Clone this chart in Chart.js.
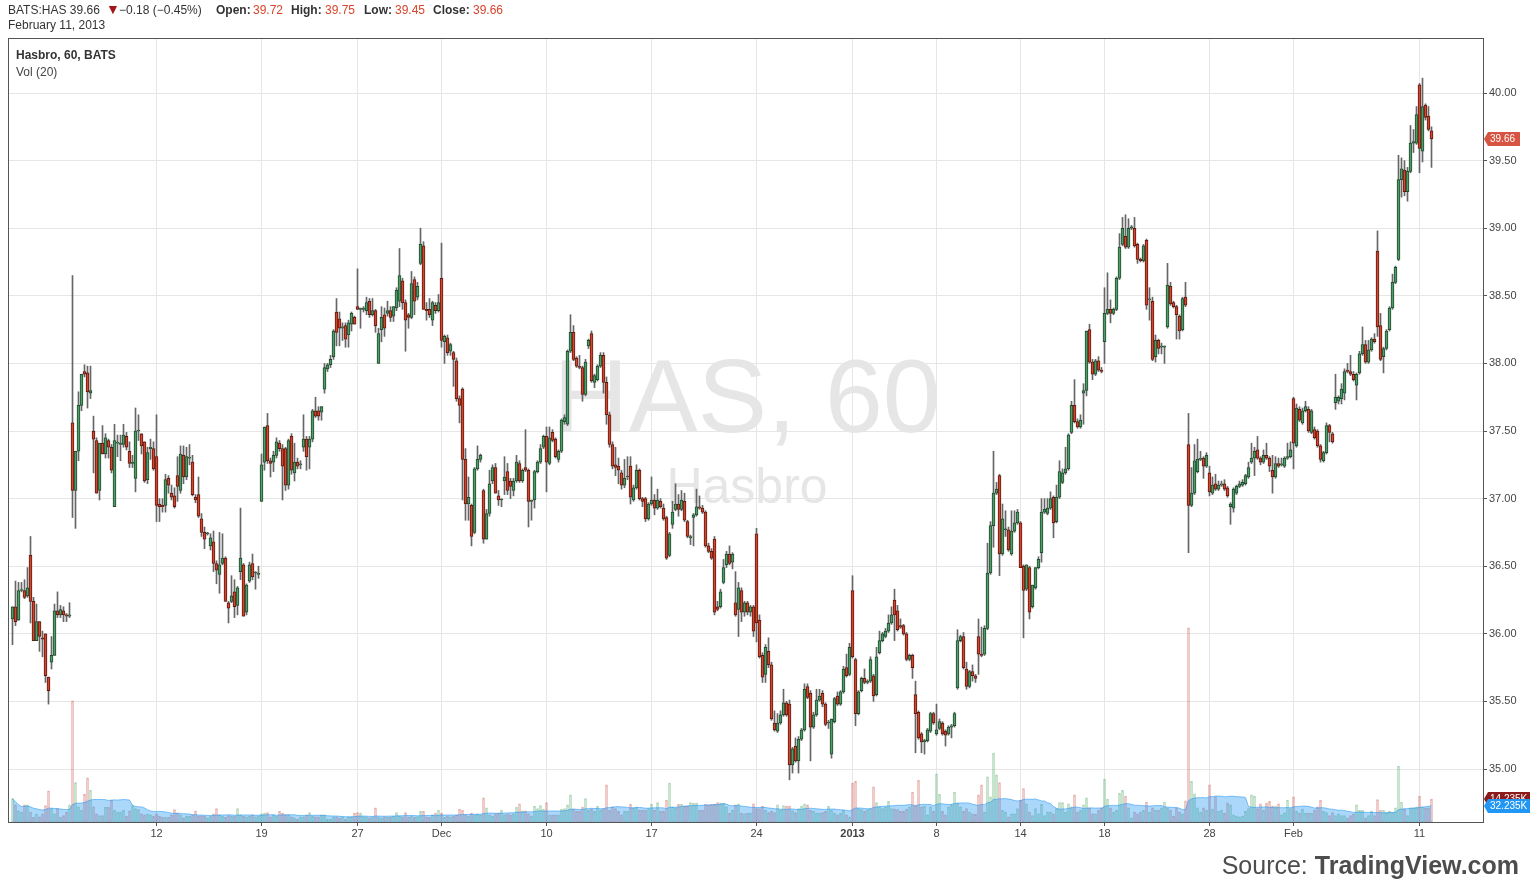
<!DOCTYPE html>
<html>
<head>
<meta charset="utf-8">
<title>HAS, 60</title>
<script src="https://cdn.jsdelivr.net/npm/chart.js@4.4.1/dist/chart.umd.min.js"></script>
<style>
  html, body { margin: 0; padding: 0; background: #fff; }
  body { width: 1533px; height: 892px; position: relative; overflow: hidden; font-family: "Liberation Sans", Arial, sans-serif; color: #333; }
  #chartBox { position: absolute; left: 0; top: 0; width: 1533px; height: 892px; z-index: 1; }
  .hdr { position: absolute; font-size: 12px; line-height: 14px; white-space: nowrap; z-index: 2; }
  .hdr.b { font-weight: bold; color: #333; }
  .val { color: #d9432b; }
  .dn { color: #a31515; font-size: 14px; }
  .legend { position: absolute; left: 16px; font-size: 12px; color: #444; z-index: 2; }
  .wm { position: absolute; left: 0; width: 1494px; text-align: center; color: #e6e6e6; z-index: 0; white-space: nowrap; }
  #source { position: absolute; right: 14px; top: 853px; font-size: 25px; line-height: 25px; color: #4d4d4d; z-index: 2; }
</style>
</head>
<body>
<div class="hdr" style="left:8px; top:3px">BATS:HAS 39.66</div>
<div class="hdr dn" style="left:106px; top:2px">&#9660;</div>
<div class="hdr" style="left:119px; top:3px">&#8722;0.18 (&#8722;0.45%)</div>
<div class="hdr b" style="left:216px; top:3px">Open:</div>
<div class="hdr val" style="left:253px; top:3px">39.72</div>
<div class="hdr b" style="left:291px; top:3px">High:</div>
<div class="hdr val" style="left:325px; top:3px">39.75</div>
<div class="hdr b" style="left:364px; top:3px">Low:</div>
<div class="hdr val" style="left:395px; top:3px">39.45</div>
<div class="hdr b" style="left:433px; top:3px">Close:</div>
<div class="hdr val" style="left:473px; top:3px">39.66</div>
<div class="hdr" style="left:8px; top:18px">February 11, 2013</div>
<div class="wm" style="top:344px; font-size:104px; line-height:104px;">HAS, 60</div>
<div class="wm" style="top:461px; font-size:50px; line-height:50px;">Hasbro</div>
<div class="legend" style="top:48px; font-weight:bold; color:#333;">Hasbro, 60, BATS</div>
<div class="legend" style="top:65px;">Vol (20)</div>
<div id="chartBox"><canvas id="c"></canvas></div>
<div id="source">Source: <b>TradingView.com</b></div>
<script>
// hourly bars, Nov 2012 - Feb 11 2013
const opens = [
36.11,36.20,36.10,36.32,36.32,36.28,36.58,36.24,35.95,36.09,35.97,36.00,35.68,35.79,35.84,36.17,36.14,36.17,36.14,36.13,
37.56,37.06,37.35,37.69,37.94,37.93,37.78,37.50,37.43,37.06,37.41,37.33,37.43,37.38,36.94,37.41,37.40,37.40,
37.46,37.35,37.26,37.15,37.50,37.48,37.42,37.14,37.37,37.37,37.31,36.96,36.95,36.95,37.15,37.04,37.02,37.17,37.06,37.32,
37.16,37.30,37.27,37.01,37.03,36.85,36.75,36.74,36.65,36.68,36.52,36.44,36.52,36.56,36.23,36.24,36.31,36.21,36.46,36.51,
36.16,36.39,36.52,36.45,36.44,36.98,37.27,37.54,37.28,37.27,37.32,37.41,37.37,37.37,37.10,37.46,37.19,37.27,37.25,37.38,
37.44,37.38,37.44,37.65,37.65,37.64,37.81,37.96,37.99,38.05,38.38,38.33,38.26,38.28,38.21,38.29,38.34,38.42,38.40,38.40,
38.39,38.46,38.36,38.39,38.00,38.25,38.36,38.37,38.39,38.35,38.41,38.46,38.61,38.45,38.36,38.34,38.62,38.49,38.74,38.87,
38.40,38.40,38.32,38.43,38.39,38.63,38.16,38.19,38.09,38.08,38.02,37.74,37.81,37.29,36.96,36.95,36.75,37.22,37.29,37.06,
36.70,36.89,37.13,37.23,37.02,36.99,37.13,37.20,37.13,37.06,37.13,37.26,37.13,37.23,37.21,36.98,36.99,37.20,37.27,37.38,
37.46,37.26,37.49,37.44,37.29,37.35,37.57,37.55,38.09,38.23,38.04,37.98,37.97,37.77,38.13,38.22,37.86,37.88,37.98,38.06,
37.86,37.62,37.40,37.25,37.24,37.19,37.10,37.16,37.24,36.99,37.08,37.21,37.00,37.00,36.85,36.96,36.99,36.93,36.98,36.93,
36.86,36.58,36.81,36.92,36.96,36.92,36.98,36.83,36.71,36.86,36.88,36.94,36.93,36.90,36.65,36.61,36.70,36.20,36.20,36.38,
36.51,36.59,36.53,36.23,36.18,36.32,36.16,36.23,36.16,36.20,36.74,36.10,35.84,35.70,35.87,35.77,35.34,35.28,35.34,35.40,
35.49,35.48,35.03,35.17,35.06,35.22,35.29,35.61,35.56,35.31,35.40,35.51,35.56,35.48,35.34,35.11,35.35,35.54,35.48,35.57,
35.75,35.70,36.32,35.81,35.41,35.58,35.67,35.64,35.65,35.69,35.55,35.86,35.95,35.98,36.02,36.08,36.25,36.17,36.06,36.06,
36.00,35.81,35.84,35.55,35.42,35.26,35.20,35.21,35.28,35.41,35.26,35.30,35.34,35.28,35.26,35.31,35.32,35.60,35.95,35.98,
35.74,35.61,35.72,35.69,35.98,35.85,35.85,36.04,36.45,36.80,37.04,37.17,36.59,36.77,36.77,36.59,36.76,36.82,36.82,36.50,
36.33,36.49,36.20,36.34,36.49,36.60,36.90,36.89,36.93,37.01,36.83,37.01,37.12,37.19,37.22,37.49,37.69,37.57,37.53,37.78,
37.80,38.25,38.01,37.92,38.02,37.95,38.16,38.37,38.40,38.37,38.40,38.63,38.88,38.94,38.86,39.00,39.00,38.88,38.77,38.76,
38.91,38.47,38.46,38.05,38.17,38.12,38.12,38.27,38.57,38.45,38.42,38.35,38.25,38.49,37.40,36.95,37.04,37.20,37.29,37.30,
37.24,37.19,37.04,37.11,37.07,37.10,37.11,37.08,36.94,36.93,37.04,37.09,37.10,37.11,37.16,37.27,37.30,37.36,37.30,37.27,
37.32,37.30,37.21,37.16,37.26,37.25,37.24,37.30,37.31,37.74,37.39,37.66,37.56,37.65,37.66,37.49,37.51,37.50,37.39,37.28,
37.34,37.54,37.48,37.71,37.72,37.74,37.78,37.95,37.94,37.92,37.84,37.93,38.07,38.14,38.01,38.10,38.18,38.83,38.28,38.05,
38.11,38.25,38.41,38.60,38.77,39.36,39.43,39.27,39.42,39.63,39.63,40.06,39.57,39.91,39.83,39.72
];
const highs = [
36.20,36.39,36.38,36.38,36.40,36.49,36.72,36.27,36.22,36.09,36.02,36.00,35.68,35.98,36.22,36.31,36.21,36.20,36.15,36.23,
38.65,37.35,37.79,37.92,37.99,37.98,37.98,37.61,37.45,37.41,37.54,37.48,37.44,37.40,37.55,37.47,37.47,37.55,
37.49,37.42,37.32,37.67,37.62,37.48,37.42,37.38,37.44,37.42,37.62,37.00,37.00,37.18,37.17,37.10,37.08,37.31,37.39,37.39,
37.38,37.40,37.32,37.03,37.16,36.89,36.79,36.75,36.74,36.76,36.54,36.75,36.74,36.57,36.24,36.43,36.40,36.35,36.93,36.52,
36.37,36.53,36.59,36.46,36.50,37.33,37.53,37.63,37.30,37.35,37.45,37.43,37.40,37.38,37.44,37.48,37.41,37.30,37.28,37.62,
37.46,37.46,37.66,37.75,37.68,37.68,38.00,38.00,38.06,38.25,38.48,38.38,38.30,38.30,38.32,38.38,38.35,38.70,38.41,38.42,
38.49,38.48,38.48,38.40,38.26,38.42,38.41,38.46,38.42,38.42,38.56,38.85,38.63,38.47,38.37,38.68,38.64,38.60,39.00,38.90,
38.45,38.48,38.46,38.45,38.51,38.89,38.21,38.21,38.15,38.09,38.04,37.76,37.82,37.37,37.16,36.96,37.23,37.39,37.33,37.07,
36.92,37.21,37.25,37.26,37.06,37.00,37.31,37.26,37.15,37.15,37.32,37.28,37.22,37.51,37.22,36.99,37.21,37.28,37.40,37.47,
37.53,37.53,37.51,37.45,37.36,37.59,37.62,38.10,38.36,38.28,38.05,38.06,37.98,38.03,38.18,38.24,37.92,37.99,38.08,38.08,
37.90,37.64,37.42,37.38,37.30,37.21,37.29,37.31,37.31,37.10,37.25,37.22,37.01,37.01,36.97,37.16,37.03,37.07,37.00,36.96,
36.87,36.75,36.98,37.11,37.03,37.06,37.04,36.84,36.73,36.89,37.07,37.02,36.95,36.91,36.67,36.63,36.72,36.24,36.33,36.55,
36.61,36.65,36.60,36.46,36.38,36.34,36.24,36.24,36.21,36.21,36.78,36.14,35.86,35.92,35.97,35.79,35.43,35.41,35.43,35.59,
35.50,35.51,35.16,35.23,35.24,35.30,35.63,35.63,35.58,35.42,35.59,35.59,35.58,35.49,35.36,35.37,35.53,35.57,35.58,35.76,
35.85,35.93,36.43,35.82,35.58,35.68,35.74,35.66,35.83,35.70,35.90,36.02,36.01,36.04,36.14,36.20,36.33,36.21,36.11,36.07,
36.01,35.85,35.85,35.65,35.43,35.27,35.22,35.30,35.42,35.42,35.48,35.37,35.35,35.29,35.32,35.33,35.42,36.03,35.99,36.01,
35.79,35.73,35.77,35.70,36.11,36.05,36.06,36.67,36.83,37.35,37.12,37.18,36.96,36.91,36.79,36.91,36.91,36.92,36.83,36.51,
36.51,36.50,36.36,36.49,36.57,37.00,37.00,37.00,37.05,37.02,37.10,37.28,37.22,37.38,37.48,37.72,37.88,37.59,37.62,37.85,
38.24,38.29,38.03,38.03,38.05,37.97,38.56,38.67,38.47,38.41,38.64,38.96,39.08,39.10,39.07,39.02,39.08,38.89,38.78,38.88,
38.92,38.56,38.49,38.21,38.18,38.15,38.13,38.74,38.60,38.46,38.43,38.36,38.49,38.60,37.63,37.23,37.40,37.44,37.35,37.31,
37.34,37.24,37.16,37.18,37.13,37.13,37.14,37.09,36.97,37.08,37.10,37.13,37.14,37.18,37.27,37.41,37.38,37.46,37.31,37.36,
37.41,37.31,37.32,37.31,37.30,37.30,37.31,37.41,37.42,37.75,37.70,37.68,37.67,37.72,37.68,37.66,37.53,37.51,37.40,37.35,
37.56,37.55,37.49,37.92,37.76,37.85,37.96,38.00,38.06,37.94,37.93,38.09,38.27,38.17,38.17,38.19,38.22,38.98,38.37,38.12,
38.25,38.42,38.66,38.72,39.54,39.52,39.50,39.45,39.76,39.73,39.90,40.07,40.11,39.92,39.90,39.75
];
const lows = [
35.92,36.06,36.10,36.31,36.26,36.27,36.08,35.95,35.95,35.87,35.83,35.64,35.48,35.74,35.84,36.12,36.12,36.09,36.09,36.12,
36.86,36.78,37.28,37.65,37.90,37.67,37.74,37.19,37.04,36.99,37.33,37.30,37.30,37.19,36.94,37.31,37.28,37.38,
37.36,37.23,37.23,37.05,37.43,37.33,37.12,37.11,37.29,37.21,36.83,36.83,36.90,36.90,37.04,36.99,36.93,36.98,37.04,37.11,
37.14,37.25,37.02,36.97,36.86,36.72,36.63,36.73,36.62,36.46,36.37,36.30,36.51,36.24,36.08,36.23,36.12,36.14,36.40,36.13,
36.14,36.38,36.40,36.33,36.41,36.98,37.21,37.26,37.16,37.20,37.30,37.35,36.99,37.06,37.07,37.18,37.13,37.22,37.22,37.35,
37.21,37.22,37.42,37.60,37.58,37.58,37.78,37.94,37.97,38.03,38.13,38.13,38.17,38.12,38.12,38.24,38.29,38.40,38.26,38.38,
38.36,38.34,38.35,38.23,38.00,38.16,38.20,38.35,38.31,38.31,38.39,38.42,38.40,38.09,38.26,38.33,38.36,38.47,38.73,38.40,
38.32,38.34,38.28,38.37,38.38,38.12,38.00,38.06,38.06,37.83,37.72,37.56,36.99,36.84,36.84,36.65,36.74,37.21,37.27,36.67,
36.70,36.87,37.11,37.04,36.95,36.94,37.03,37.03,37.00,37.02,37.12,37.12,37.12,37.20,36.79,36.84,36.93,37.19,37.26,37.37,
37.05,37.25,37.42,37.30,37.27,37.34,37.55,37.54,38.08,38.02,37.97,37.96,37.72,37.76,38.11,37.86,37.82,37.87,37.97,37.78,
37.55,37.38,37.22,37.17,37.11,37.07,37.08,37.14,36.96,36.98,37.07,36.99,36.94,36.83,36.84,36.95,36.88,36.92,36.93,36.84,
36.55,36.57,36.78,36.91,36.87,36.91,36.83,36.71,36.66,36.65,36.87,36.92,36.89,36.64,36.60,36.55,36.14,36.17,36.19,36.37,
36.49,36.51,36.48,36.13,35.98,36.09,36.13,36.14,36.13,35.98,35.94,35.82,35.64,35.64,35.75,35.36,35.28,35.27,35.33,35.39,
35.39,34.92,34.97,35.05,34.97,35.21,35.28,35.52,35.06,35.30,35.39,35.50,35.46,35.32,35.30,35.08,35.34,35.47,35.47,35.56,
35.68,35.69,35.82,35.32,35.40,35.57,35.63,35.63,35.64,35.50,35.54,35.85,35.94,35.97,36.01,36.07,35.95,36.02,36.04,35.99,
35.80,35.80,35.67,35.12,35.22,35.12,35.11,35.20,35.27,35.33,35.25,35.29,35.25,35.17,35.25,35.23,35.31,35.59,35.94,35.74,
35.59,35.60,35.65,35.64,35.70,35.83,35.84,36.03,36.44,36.64,37.03,36.43,36.58,36.72,36.61,36.58,36.75,36.81,36.49,35.97,
36.32,36.11,36.19,36.33,36.48,36.53,36.89,36.88,36.92,36.71,36.82,37.00,37.11,37.18,37.21,37.48,37.56,37.52,37.52,37.55,
37.76,38.00,37.88,37.91,37.94,37.93,38.00,38.36,38.30,38.36,38.39,38.62,38.87,38.85,38.85,38.99,38.86,38.74,38.75,38.75,
38.40,38.32,38.02,38.01,38.07,38.07,38.00,38.26,38.43,38.41,38.18,38.18,38.24,38.42,36.60,36.94,37.03,37.19,37.28,37.15,
37.23,37.02,37.03,37.06,37.06,37.09,37.06,37.01,36.81,36.90,37.03,37.08,37.09,37.10,37.15,37.26,37.17,37.29,37.25,37.26,
37.29,37.20,37.04,37.15,37.23,37.24,37.23,37.29,37.30,37.22,37.38,37.57,37.55,37.64,37.49,37.48,37.44,37.38,37.27,37.27,
37.33,37.42,37.41,37.66,37.70,37.70,37.73,37.93,37.91,37.87,37.73,37.92,38.06,38.00,38.00,38.09,38.15,38.20,38.02,37.93,
38.10,38.24,38.40,38.59,38.76,39.23,39.24,39.20,39.41,39.56,39.62,39.41,39.49,39.80,39.72,39.45
];
const closes = [
36.20,36.09,36.32,36.32,36.27,36.34,36.24,35.95,36.09,35.98,35.96,35.69,35.58,35.84,36.17,36.14,36.18,36.14,36.13,36.14,
37.06,37.35,37.69,37.92,37.92,37.79,37.80,37.44,37.04,37.41,37.33,37.45,37.38,37.21,37.43,37.41,37.41,37.47,
37.38,37.26,37.27,37.50,37.50,37.39,37.13,37.34,37.38,37.22,36.95,36.94,36.94,37.14,37.10,37.01,36.94,37.09,37.33,37.16,
37.31,37.30,37.03,36.99,36.87,36.75,36.70,36.74,36.71,36.52,36.47,36.51,36.56,36.24,36.19,36.28,36.20,36.34,36.56,36.13,
36.36,36.51,36.42,36.45,36.44,37.25,37.53,37.28,37.26,37.32,37.42,37.37,37.24,37.10,37.43,37.21,37.27,37.24,37.25,37.44,
37.31,37.44,37.65,37.61,37.61,37.68,37.97,37.99,38.03,38.24,38.23,38.26,38.27,38.18,38.30,38.37,38.29,38.40,38.40,38.40,
38.45,38.36,38.39,38.28,38.22,38.34,38.26,38.39,38.34,38.42,38.54,38.65,38.45,38.32,38.34,38.59,38.46,38.57,38.88,38.40,
38.39,38.36,38.45,38.39,38.45,38.17,38.20,38.08,38.14,38.03,37.74,37.69,37.29,36.96,37.01,36.72,37.22,37.29,37.32,36.70,
36.89,37.11,37.23,37.04,36.99,36.99,37.16,37.06,37.09,37.13,37.27,37.13,37.21,37.21,36.98,36.98,37.20,37.27,37.37,37.46,
37.27,37.45,37.43,37.31,37.35,37.58,37.60,38.09,38.23,38.03,37.98,37.97,37.77,38.01,38.17,37.87,37.91,37.98,38.06,37.86,
37.62,37.40,37.24,37.23,37.21,37.10,37.15,37.16,37.01,37.08,37.21,37.00,36.98,36.85,36.96,36.99,36.93,36.99,36.94,36.85,
36.56,36.74,36.90,36.96,36.92,36.99,36.84,36.72,36.72,36.88,36.94,36.93,36.90,36.65,36.61,36.56,36.16,36.18,36.31,36.49,
36.59,36.52,36.59,36.14,36.34,36.16,36.23,36.16,36.20,36.02,36.08,35.83,35.68,35.90,35.77,35.37,35.29,35.34,35.40,35.49,
35.40,35.03,35.15,35.06,35.22,35.29,35.59,35.53,35.31,35.40,35.51,35.54,35.48,35.33,35.34,35.37,35.52,35.48,35.57,35.74,
35.69,35.90,35.83,35.41,35.57,35.67,35.64,35.65,35.81,35.54,35.83,35.95,36.00,36.02,36.08,36.14,36.14,36.03,36.05,36.00,
35.81,35.84,35.75,35.41,35.23,35.20,35.21,35.29,35.41,35.34,35.29,35.35,35.26,35.25,35.31,35.32,35.41,35.95,35.98,35.75,
35.61,35.72,35.69,35.67,35.85,35.84,36.04,36.45,36.80,37.04,37.07,36.59,36.85,36.77,36.62,36.76,36.82,36.90,36.49,36.32,
36.51,36.16,36.36,36.49,36.55,36.90,36.92,36.93,37.00,36.82,37.01,37.20,37.19,37.22,37.47,37.69,37.57,37.53,37.58,37.80,
38.24,38.01,37.92,38.02,37.95,37.94,38.37,38.40,38.37,38.40,38.63,38.86,39.00,38.86,39.00,39.01,38.87,38.77,38.76,38.87,
38.43,38.47,38.03,38.17,38.11,38.12,38.12,38.58,38.44,38.42,38.36,38.24,38.48,38.43,36.95,37.04,37.28,37.29,37.29,37.24,
37.32,37.05,37.10,37.07,37.10,37.11,37.07,37.02,36.96,37.07,37.09,37.11,37.12,37.17,37.23,37.30,37.35,37.30,37.27,37.32,
37.30,37.24,37.16,37.26,37.24,37.25,37.30,37.31,37.36,37.41,37.67,37.58,37.65,37.68,37.50,37.65,37.45,37.39,37.29,37.34,
37.54,37.49,37.42,37.75,37.75,37.81,37.94,37.94,37.92,37.88,37.92,38.07,38.14,38.01,38.10,38.18,38.16,38.27,38.03,38.11,
38.24,38.41,38.60,38.71,39.36,39.44,39.27,39.42,39.63,39.64,39.84,39.59,39.90,39.82,39.73,39.66
];
// volume in thousands of shares
const volumes = [
40,29,19,17,29,29,17,8,14,9,14,28,53,23,14,23,8,11,17,29,206,67,26,20,47,75,54,26,14,11,11,25,25,37,20,17,17,20,
10,19,28,23,21,14,12,14,12,10,14,10,8,8,8,12,21,15,12,7,10,10,12,19,10,10,10,7,10,14,23,12,10,8,11,10,10,23,12,10,
9,10,12,9,10,14,15,16,9,12,10,18,15,12,12,9,7,5,9,9,12,16,10,9,9,12,12,5,5,9,9,7,9,5,9,9,15,16,15,9,
9,7,9,24,8,7,9,8,8,10,16,10,9,16,9,10,8,9,18,18,9,8,12,15,20,15,8,10,9,10,12,22,20,12,10,15,12,13,12,41,
24,12,10,14,15,20,12,14,12,14,25,31,19,19,14,10,27,23,28,22,33,12,12,12,12,22,23,29,46,22,18,18,25,40,20,22,18,27,20,23,
63,20,26,23,18,12,18,18,30,24,26,20,20,20,23,30,20,33,18,18,37,66,26,24,30,30,27,27,33,32,32,20,20,30,29,30,30,33,32,32,
26,15,20,29,31,15,14,15,15,31,23,23,27,20,16,18,16,29,20,28,27,27,19,16,23,27,31,29,20,18,15,15,16,18,27,20,15,12,15,20,
12,9,66,69,23,21,18,21,23,60,33,26,23,26,35,23,22,21,18,18,22,26,51,29,71,26,27,12,26,18,82,47,18,12,26,29,51,32,26,18,
23,17,14,13,46,63,17,77,43,117,80,67,20,17,9,14,14,23,37,57,31,17,11,23,14,30,11,17,17,14,23,33,33,17,31,26,46,17,20,29,
41,24,14,14,20,24,73,39,24,17,20,49,54,44,24,7,17,14,17,20,34,17,24,20,20,24,34,24,20,10,24,17,14,36,330,69,48,24,17,24,
20,63,22,43,18,20,15,32,29,12,10,9,10,18,23,46,44,23,31,20,32,35,27,27,31,12,16,37,23,43,18,15,22,15,15,15,20,26,37,18,
16,11,16,11,14,11,11,7,11,14,29,20,20,7,11,18,11,38,20,20,16,18,16,24,95,34,22,11,24,24,26,44,26,24,24,39
];

const tickSlots = [48, 83, 115, 143, 178, 213, 248, 280, 308, 336, 364, 399, 427, 469];
const tickLabels = ['12', '19', '27', 'Dec', '10', '17', '24', '2013', '8', '14', '18', '28', 'Feb', '11'];
const priceTicks = [35, 35.5, 36, 36.5, 37, 37.5, 38, 38.5, 39, 39.5, 40];
const maLength = 20;
const lastVolText = '14.235K';
const maText = '32.235K';

const upFill = '#4f9d69', upLine = '#1f4a2d';
const dnFill = '#d3452e', dnLine = '#5c1a10';

const idx = closes.map((c, i) => i);
const isUp = i => closes[i] >= opens[i];

const bodies = idx.map(i => ({ x: i, y: [Math.min(opens[i], closes[i]), Math.max(opens[i], closes[i])] }));
const wicks = idx.map(i => ({ x: i, y: [lows[i], highs[i]] }));
const volBars = idx.map(i => ({ x: i, y: volumes[i] }));

// Vol (20) moving average
const volMa = idx.map(i => {
    const from = Math.max(0, i - maLength + 1);
    let s = 0;
    for (let k = from; k <= i; k++) s += volumes[k];
    return { x: i, y: s / (i - from + 1) };
});

function tag(ctx, x, y, w, text, fill) {
    ctx.fillStyle = fill;
    ctx.beginPath();
    ctx.moveTo(x, y);
    ctx.lineTo(x + 4, y - 7);
    ctx.lineTo(x + w, y - 7);
    ctx.lineTo(x + w, y + 7);
    ctx.lineTo(x + 4, y + 7);
    ctx.closePath();
    ctx.fill();
    ctx.fillStyle = '#fff';
    ctx.font = '10px "Liberation Sans", Arial, sans-serif';
    ctx.textAlign = 'left';
    ctx.textBaseline = 'middle';
    ctx.fillText(text, x + 6, y + 0.5);
}

const framePlugin = {
    id: 'frame',
    afterDraw(chart) {
        const { ctx, chartArea: a, scales } = chart;
        ctx.save();
        ctx.strokeStyle = '#555';
        ctx.lineWidth = 1;
        ctx.strokeRect(a.left + 0.5, a.top + 0.5, a.right - a.left, a.bottom - a.top);
        const last = closes.length - 1;
        const yv = scales.yv;
        tag(ctx, a.right + 1, Math.round(yv.getPixelForValue(volumes[last])), 46, lastVolText, '#8b1a1a');
        tag(ctx, a.right + 1, Math.round(yv.getPixelForValue(volMa[last].y)), 46, maText, '#2196f3');
        tag(ctx, a.right + 1, Math.round(scales.y.getPixelForValue(closes[last])), 36, closes[last].toFixed(2), '#d75442');
        ctx.restore();
    }
};

new Chart(document.getElementById('c'), {
    type: 'bar',
    data: {
        datasets: [
            {
                label: 'body', data: bodies, yAxisID: 'y', grouped: false, order: 0,
                barThickness: 3, borderWidth: 1, borderSkipped: false, minBarLength: 1,
                backgroundColor: idx.map(i => isUp(i) ? upFill : dnFill),
                borderColor: idx.map(i => isUp(i) ? upLine : dnLine)
            },
            {
                label: 'wick', data: wicks, yAxisID: 'y', grouped: false, order: 1,
                barThickness: 1, borderWidth: 0, backgroundColor: '#666'
            },
            {
                type: 'line', label: 'Vol MA', data: volMa, yAxisID: 'yv', order: 2,
                borderColor: 'rgba(33,150,243,0.55)', borderWidth: 1, pointRadius: 0,
                fill: 'origin', backgroundColor: 'rgba(33,150,243,0.38)', tension: 0
            },
            {
                label: 'Volume', data: volBars, yAxisID: 'yv', grouped: false, order: 3,
                barThickness: 2, borderWidth: 1, borderSkipped: false,
                backgroundColor: idx.map(i => isUp(i) ? 'rgba(90,185,110,0.28)' : 'rgba(215,84,66,0.25)'),
                borderColor: idx.map(i => isUp(i) ? 'rgba(70,160,90,0.45)' : 'rgba(200,80,70,0.45)')
            }
        ]
    },
    options: {
        responsive: true,
        maintainAspectRatio: false,
        animation: false,
        events: [],
        layout: { padding: { left: 8, top: 38, right: 0, bottom: 0 } },
        plugins: { legend: { display: false }, tooltip: { enabled: false } },
        scales: {
            x: {
                type: 'linear', min: -1.5, max: -1.5 + 1475 / 3, offset: false,
                afterBuildTicks: s => { s.ticks = tickSlots.map(v => ({ value: v })); },
                afterFit: s => { s.height = 70; },
                grid: { color: '#e6e6e6', tickColor: '#555', tickLength: 4, offset: false },
                border: { color: '#555' },
                ticks: {
                    autoSkip: false, maxRotation: 0, padding: 1, color: '#444',
                    callback: (v, i) => tickLabels[i],
                    font: c => ({ family: '"Liberation Sans", Arial, sans-serif', size: 11, weight: (c.tick && c.tick.label === '2013') ? 'bold' : 'normal' })
                }
            },
            y: {
                position: 'right', min: 34.608, max: 40.407,
                afterBuildTicks: s => { s.ticks = priceTicks.map(v => ({ value: v })); },
                afterFit: s => { s.width = 50; },
                grid: { color: '#e6e6e6', tickColor: '#555', tickLength: 4 },
                border: { color: '#555' },
                ticks: {
                    padding: 2, color: '#444',
                    font: { family: '"Liberation Sans", Arial, sans-serif', size: 11 },
                    callback: v => Number(v).toFixed(2)
                }
            },
            yv: { display: false, min: 0, max: 784 * 1.7 }
        }
    },
    plugins: [framePlugin]
});
</script>
</body>
</html>
